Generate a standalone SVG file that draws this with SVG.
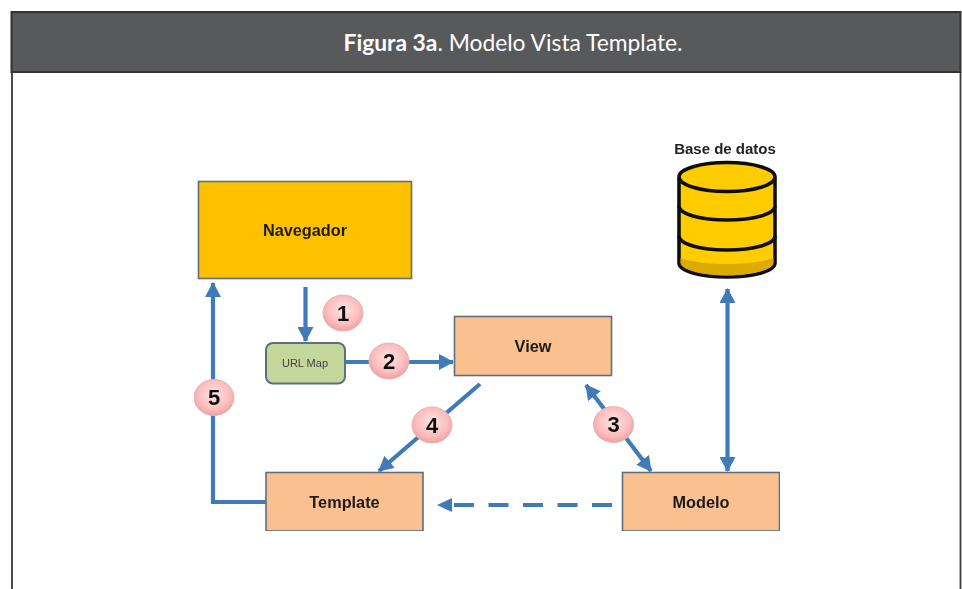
<svg xmlns="http://www.w3.org/2000/svg" width="962" height="589" viewBox="0 0 962 589">
<style>
text{font-family:"Liberation Sans",Arial,sans-serif;text-anchor:middle}
.box{stroke:#5f6e80;stroke-width:1.6}
.peach{fill:#fac090}
.lbl{font-weight:bold;font-size:16.300px;fill:#1a1a1a}
.c{stroke:#3f7ab8;stroke-width:4.200;fill:none}
.head{fill:#3f7ab8;stroke:none}
.num ellipse{fill:url(#pink);stroke:#e6b4b4;stroke-width:1}
.num text{font-weight:bold;font-size:22px;fill:#111}
.db{stroke:#111;stroke-width:3.600;fill:#ffcc00}
</style>
<defs>
<radialGradient id="pink" cx="50%" cy="42%" r="62%"><stop offset="0" stop-color="#ffe4e4"/><stop offset="0.65" stop-color="#fbbcbc"/><stop offset="1" stop-color="#ec9a9a"/></radialGradient>
<marker id="arrow" viewBox="0 0 16 16" refX="14" refY="8" markerWidth="16" markerHeight="16" markerUnits="userSpaceOnUse" orient="auto-start-reverse"><path class="head" d="M0 0L15 8L0 16Z"/></marker>
<filter id="soft" x="0" y="0" width="100%" height="100%"><feGaussianBlur stdDeviation="0.500"/></filter>
</defs>
<rect width="962" height="589" fill="#fff"/>
<g id="frame">
<path d="M12 72V589M960.500 72V589" stroke="#3a3a3c" stroke-width="1.800" fill="none"/>
<rect x="11.500" y="12" width="949" height="60" fill="#58595b" stroke="#333335" stroke-width="2"/>
<text x="513" y="51" font-size="23" fill="#fff" style="font-family:Lato,'Open Sans',sans-serif" textLength="339" lengthAdjust="spacingAndGlyphs"><tspan font-weight="bold">Figura 3a</tspan>. Modelo Vista Template.</text>
</g>
<g id="diagram" filter="url(#soft)">
<g id="connectors">
<path class="c" marker-end="url(#arrow)" d="M305.500 287V341"/>
<path class="c" marker-end="url(#arrow)" d="M345 362H453"/>
<path class="c" marker-start="url(#arrow)" marker-end="url(#arrow)" d="M586 385L651 471"/>
<path class="c" marker-end="url(#arrow)" d="M480 384L379 471"/>
<path class="c" marker-end="url(#arrow)" d="M266 502H213V283"/>
<path class="c" marker-start="url(#arrow)" marker-end="url(#arrow)" d="M727.500 289V471"/>
<path class="c" stroke-dasharray="20 14.500" d="M612 505H454"/>
<path class="head" d="M437 505L452 498V512Z"/>
</g>
<g id="navegador"><rect class="box" x="198.500" y="181.500" width="213" height="97" fill="#ffc000"/><text class="lbl" x="305" y="236">Navegador</text></g>
<g id="urlmap"><rect x="266" y="343" width="79" height="40.500" rx="7" fill="#c4d79b" stroke="#5f6e80" stroke-width="2"/><text x="305" y="367" font-size="11" fill="#444">URL Map</text></g>
<g id="view"><rect class="box peach" x="454.500" y="316.500" width="157" height="59"/><text class="lbl" x="533" y="352">View</text></g>
<g id="template"><rect class="box peach" x="266" y="472.500" width="157" height="58.500"/><text class="lbl" x="344.500" y="508">Template</text></g>
<g id="modelo"><rect class="box peach" x="622.500" y="472.500" width="157" height="58.500"/><text class="lbl" x="701" y="508">Modelo</text></g>
<g id="basedatos">
<text x="725" y="154" font-size="15" font-weight="bold" fill="#222">Base de datos</text>
<path class="db" d="M679 178V263C679 271 700 277 727 277S775 271 775 263V178"/>
<path d="M680.500 258C692 262 708 264 727 264S762 262 773.500 258V263C773 270 750 275.500 727 275.500S681 270 680.500 263Z" fill="#dcaa00"/>
<path class="db" style="fill:none" d="M679 206C679 214 700 220 727 220S775 214 775 206M679 236C679 244 700 250 727 250S775 244 775 236"/>
<ellipse class="db" cx="727" cy="177" rx="48" ry="14.500"/>
</g>
<g id="n1" class="num"><ellipse cx="343" cy="313" rx="20" ry="18"/><text x="343" y="321">1</text></g>
<g id="n2" class="num"><ellipse cx="389" cy="361" rx="20" ry="18"/><text x="389" y="369">2</text></g>
<g id="n3" class="num"><ellipse cx="613.500" cy="424.500" rx="20" ry="18"/><text x="613.500" y="432">3</text></g>
<g id="n4" class="num"><ellipse cx="432" cy="425" rx="20" ry="18"/><text x="432" y="433">4</text></g>
<g id="n5" class="num"><ellipse cx="214" cy="397.500" rx="20" ry="18"/><text x="214" y="405">5</text></g>
</g>
</svg>
